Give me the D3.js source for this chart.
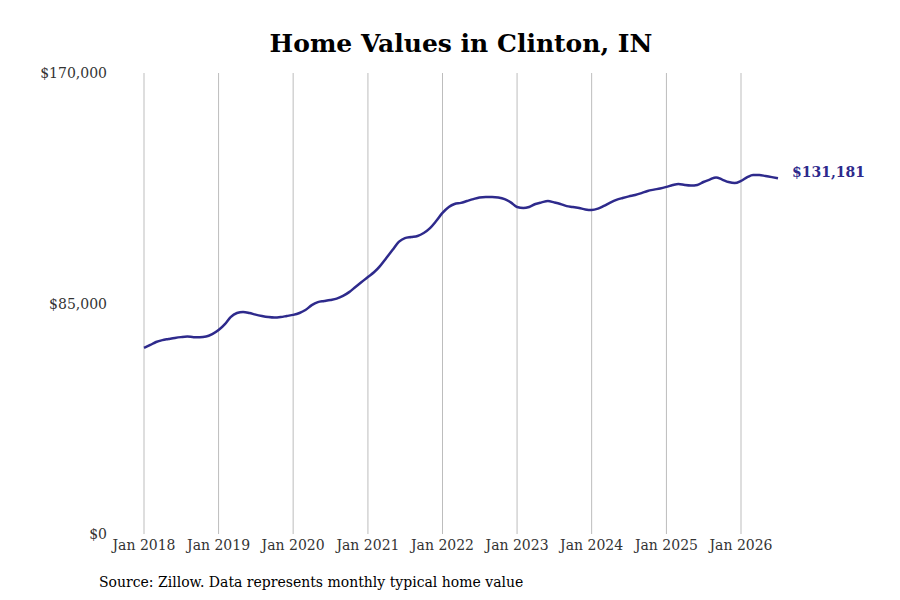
<!DOCTYPE html>
<html>
<head>
<meta charset="utf-8">
<script src="https://cdn.jsdelivr.net/npm/d3@7"></script>
<style>
  body { margin: 0; background: #fff; }
  text { font-family: "DejaVu Serif", "Liberation Serif", serif; }
</style>
</head>
<body>
<svg id="chart" width="900" height="600"></svg>
<script>
// monthly typical home value, Jan 2018 .. Jul 2026 (thousands of $)
const startMonth = new Date(2018, 0, 1);
const values = [
  68.6, 69.7, 70.8, 71.5, 71.9, 72.3, 72.6, 72.8, 72.6, 72.6, 72.8, 73.7,
  75.2, 77.4, 80.0, 81.5, 81.9, 81.5, 80.9, 80.4, 80.0, 79.8, 80.0, 80.4,
  80.8, 81.5, 82.6, 84.4, 85.5, 85.9, 86.3, 86.8, 87.8, 89.2, 91.1, 92.9,
  94.8, 96.6, 98.8, 101.8, 104.7, 107.7, 109.1, 109.5, 109.9, 111.0, 112.8, 115.4,
  118.4, 120.6, 121.7, 122.1, 122.8, 123.5, 124.1, 124.3, 124.3, 124.1, 123.5, 122.3,
  120.6, 120.2, 120.6, 121.7, 122.3, 122.8, 122.3, 121.7, 120.9, 120.6, 120.2, 119.7,
  119.5, 120.0, 121.0, 122.2, 123.2, 123.9, 124.5, 125.0, 125.7, 126.5, 127.0, 127.4,
  128.0, 128.7, 129.1, 128.7, 128.5, 128.7, 129.8, 130.7, 131.5, 130.7, 129.8, 129.4,
  130.2, 131.6, 132.4, 132.4, 132.0, 131.6, 131.181
];
const yTicks = [0, 85000, 170000];
const xTickYears = [2018, 2019, 2020, 2021, 2022, 2023, 2024, 2025, 2026];

const data = values.map((v, i) => ({
  date: new Date(startMonth.getFullYear(), startMonth.getMonth() + i, 1),
  value: v * 1000
}));

const svg = d3.select("#chart");
const x = d3.scaleTime()
  .domain([new Date(2018, 0, 1), new Date(2026, 0, 1)])
  .range([144, 741]);
const y = d3.scaleLinear().domain([0, 170000]).range([534, 73]);

const fmt = d => "$" + d3.format(",")(d);

// vertical grid
svg.append("g").selectAll("line")
  .data(xTickYears)
  .join("line")
  .attr("x1", d => x(new Date(d, 0, 1)))
  .attr("x2", d => x(new Date(d, 0, 1)))
  .attr("y1", 73).attr("y2", 534)
  .attr("stroke", "#bdbdbd").attr("stroke-width", 1);

// x labels
svg.append("g").selectAll("text")
  .data(xTickYears)
  .join("text")
  .attr("x", d => x(new Date(d, 0, 1)))
  .attr("y", 550)
  .attr("text-anchor", "middle")
  .attr("font-size", 14)
  .attr("fill", "#333")
  .text(d => "Jan " + d);

// y labels
svg.append("g").selectAll("text")
  .data(yTicks)
  .join("text")
  .attr("x", 107)
  .attr("y", d => y(d) + 5)
  .attr("text-anchor", "end")
  .attr("font-size", 14)
  .attr("fill", "#333")
  .text(fmt);

// line
const line = d3.line().x(d => x(d.date)).y(d => y(d.value)).curve(d3.curveMonotoneX);
svg.append("path")
  .datum(data)
  .attr("d", line)
  .attr("fill", "none")
  .attr("stroke", "#2e2a8c")
  .attr("stroke-width", 2.5);

// end label
const last = data[data.length - 1];
svg.append("text")
  .attr("x", x(last.date) + 14)
  .attr("y", y(last.value) - 1)
  .attr("font-size", 14)
  .attr("font-weight", "bold")
  .attr("fill", "#2e2a8c")
  .text("$131,181");

// title
svg.append("text")
  .attr("x", 461).attr("y", 52)
  .attr("text-anchor", "middle")
  .attr("font-size", 25)
  .attr("font-weight", "bold")
  .attr("fill", "#000")
  .text("Home Values in Clinton, IN");

// source
svg.append("text")
  .attr("x", 99).attr("y", 587)
  .attr("font-size", 14)
  .attr("fill", "#000")
  .text("Source: Zillow. Data represents monthly typical home value");
</script>
</body>
</html>
